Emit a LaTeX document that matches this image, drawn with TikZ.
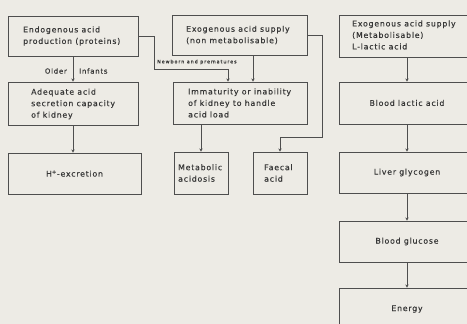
\documentclass[tikz,border=0pt]{standalone}
\usepackage{fontspec}
\setmainfont[LetterSpace=10,FakeBold=0.4]{DejaVu Sans}
\newfontfamily\tinyfont[LetterSpace=20,FakeBold=0.3]{DejaVu Sans}
\usetikzlibrary{arrows.meta}
\definecolor{paper}{RGB}{237,235,229}
\definecolor{ink}{RGB}{78,78,78}
\definecolor{txtc}{RGB}{55,55,55}
\begin{document}
\begin{tikzpicture}[x=1pt,y=-1pt,
  bx/.style={draw=ink,line width=0.8pt,inner sep=0pt,text=txtc,
    font=\fontsize{7.8}{11.5}\selectfont,align=center},
  txt/.style={anchor=west,inner sep=0pt,align=left,text=txtc,
    font=\fontsize{7.8}{11.5}\selectfont},
  lbl/.style={inner sep=0pt,text=txtc,font=\fontsize{7}{8}\selectfont},
  arr/.style={draw=ink,line width=0.8pt,-{Stealth[length=3.2pt,width=3.4pt]}},
  ln/.style={draw=ink,line width=0.8pt}]
\path[use as bounding box,clip] (0,0) rectangle (467,324);
\fill[paper] (0,0) rectangle (467,324);
% boxes
\node[bx,minimum width=130,minimum height=40] (A) at (73,36) {};
\node[bx,minimum width=135,minimum height=40] (B) at (239.5,35) {};
\node[bx,minimum width=136,minimum height=42] (C) at (407,36) {};
\node[bx,minimum width=130,minimum height=43] (D) at (73,103.5) {};
\node[bx,minimum width=134,minimum height=42] (E) at (240,103) {};
\node[bx,minimum width=136,minimum height=42] (F) at (407,103) {Blood lactic acid};
\node[bx,minimum width=133,minimum height=41] (G) at (74.5,173.5) {H\textsuperscript{+}-excretion};
\node[bx,minimum width=54,minimum height=42] (H) at (201,173) {};
\node[bx,minimum width=54,minimum height=42] (I) at (280,173) {};
\node[bx,minimum width=136,minimum height=41] (J) at (407,172.5) {Liver glycogen};
\node[bx,minimum width=136,minimum height=41] (K) at (407,241.5) {Blood glucose};
\node[bx,minimum width=136,minimum height=42] (L) at (407,309) {Energy};
% box texts
\node[txt] (At) at (23,36) {Endogenous acid\\production (proteins)};
\node[txt] (Bt) at (186,35) {Exogenous acid supply\\(non metabolisable)};
\node[txt] (Ct) at (352,35) {Exogenous acid supply\\(Metabolisable)\\L-lactic acid};
\node[txt] (Dt) at (31,104) {Adequate acid\\secretion capacity\\of kidney};
\node[txt] (Et) at (188,103) {Immaturity or inability\\of kidney to handle\\acid load};
\node[txt] (Ht) at (178,173) {Metabolic\\acidosis};
\node[txt] (It) at (264,173) {Faecal\\acid};
% connector corners
\coordinate (k1) at (154,69);
\coordinate (k2) at (228,69);
\coordinate (k3) at (322,137);
\coordinate (k4) at (280,137);
% connectors
\draw[arr] (A.south) -- (D.north);
\draw[arr] (D.south) -- (D.south |- G.north);
\draw[arr] (A.east) -| (k1) -- (k2) -- (k2 |- E.north);
\draw[arr] ([xshift=13.5]B.south) -- ([xshift=13.5]B.south |- E.north);
\draw[arr] (B.east) -| (k3) -- (k4) -- (I.north);
\draw[arr] (H.north |- E.south) -- (H.north);
\draw[arr] (C.south) -- (F.north);
\draw[arr] (F.south) -- (J.north);
\draw[arr] (J.south) -- (K.north);
\draw[arr] (K.south) -- (L.north);
% labels
\node[lbl,anchor=east] (older) at (67,71) {Older};
\node[lbl,anchor=west] (inf) at (79,71) {Infants};
\node[inner sep=0pt,anchor=west,text=txtc,font=\tinyfont\fontsize{4.8}{6}\selectfont] (nb) at (157,62) {Newborn and prematures};
\end{tikzpicture}
\end{document}
